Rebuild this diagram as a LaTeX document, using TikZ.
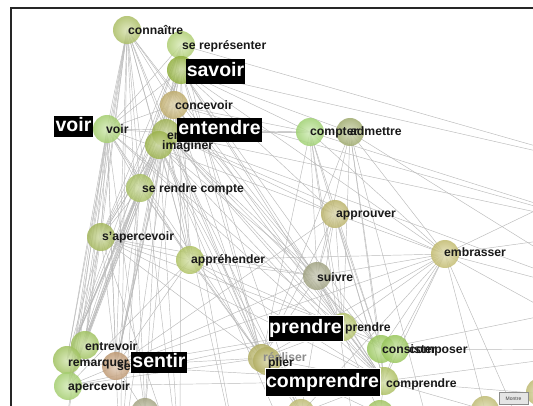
\documentclass[tikz,border=0pt]{standalone}
\usepackage{fontspec}
\setmainfont{Liberation Sans}
\definecolor{cA}{HTML}{B4C86A}
\definecolor{cB}{HTML}{B8D878}
\definecolor{cC}{HTML}{98B840}
\definecolor{cD}{HTML}{C8B470}
\definecolor{cE}{HTML}{A8BC58}
\definecolor{cF}{HTML}{A4BC50}
\definecolor{cG}{HTML}{ACD874}
\definecolor{cH}{HTML}{B0C868}
\definecolor{cI}{HTML}{A8DC78}
\definecolor{cJ}{HTML}{A8B474}
\definecolor{cK}{HTML}{ACC060}
\definecolor{cL}{HTML}{B8CC68}
\definecolor{cM}{HTML}{C4BC70}
\definecolor{cN}{HTML}{CCC474}
\definecolor{cO}{HTML}{A8AA88}
\definecolor{cP}{HTML}{BCCC70}
\definecolor{cQ}{HTML}{A0D060}
\definecolor{cS}{HTML}{B4C864}
\definecolor{cT}{HTML}{BCB868}
\definecolor{cU}{HTML}{A8CC64}
\definecolor{cW}{HTML}{C8A078}
\definecolor{cY}{HTML}{ACAC88}
\definecolor{cZ}{HTML}{C8C478}
\begin{document}
\begin{tikzpicture}[x=1pt,y=-1pt,
  edge/.style={draw=black!27,line width=0.45pt},
  ballnode/.style={circle,minimum size=28pt,inner sep=0pt,shading=radial,
     inner color=#1!50!white,outer color=#1!95!black,opacity=0.85},
  lbl/.style={anchor=west,inner sep=0pt,text=black!90,
     font=\fontsize{12.2}{13}\selectfont\bfseries,text height=8.5pt,text depth=2.5pt},
  big/.style={fill=black,text=white,inner xsep=1.2pt,inner ysep=3pt,
     font=\fontsize{19.5}{20}\selectfont\bfseries,text height=14.5pt,text depth=4.5pt}]
\useasboundingbox (0,0) rectangle (533,406);
\clip (0,0) rectangle (533,406);
\fill[white] (0,0) rectangle (533,406);
% centres
\coordinate (A) at (127,30);
\coordinate (B) at (181,45);
\coordinate (C) at (181,70);
\coordinate (D) at (174,105);
\coordinate (E) at (166,133);
\coordinate (F) at (159,145);
\coordinate (G) at (107,129);
\coordinate (H) at (140,188);
\coordinate (I) at (310,132);
\coordinate (J) at (350,132);
\coordinate (K) at (101,237);
\coordinate (L) at (190,260);
\coordinate (M) at (335,214);
\coordinate (N) at (445,254);
\coordinate (O) at (317,276);
\coordinate (P) at (343,327);
\coordinate (Q) at (381,349);
\coordinate (R) at (395,349);
\coordinate (S) at (384,381);
\coordinate (T) at (262,358);
\coordinate (T2) at (267,361);
\coordinate (U) at (85,345);
\coordinate (V) at (67,360);
\coordinate (W) at (116,366);
\coordinate (X) at (68,386);
\coordinate (Y1) at (145,412);
\coordinate (Y2) at (301,413);
\coordinate (Y3) at (380,414);
\coordinate (Y4) at (485,410);
\coordinate (Y5) at (540,392);
% off-picture ends
\coordinate (b1) at (60,470);
\coordinate (b2) at (120,470);
\coordinate (b3) at (180,470);
\coordinate (b4) at (240,470);
\coordinate (b5) at (300,470);
\coordinate (b6) at (360,470);
\coordinate (b7) at (440,470);
\coordinate (b8) at (540,470);
\coordinate (r1) at (620,80);
\coordinate (r2) at (620,170);
\coordinate (r3) at (620,230);
\coordinate (r4) at (620,300);
\coordinate (r5) at (620,350);
\coordinate (r6) at (620,400);
% connectors
\foreach \a/\b in {A/G,A/K,A/U,A/V,A/W,A/X,A/H,A/F,A/E,A/D,A/T,A/Y1,A/L,A/O,A/b1,A/b2,A/b3,A/S,
  B/G,B/K,B/V,B/X,B/W,B/T,B/Y1,B/F,B/b2,B/r2,
  C/G,C/K,C/U,C/V,C/W,C/X,C/L,C/T,C/I,C/J,C/P,C/S,C/Q,C/N,C/M,C/Y2,C/r2,C/b3,
  D/G,D/K,D/H,D/V,D/X,D/W,D/L,D/T,D/I,D/S,D/O,D/r3,D/b4,
  E/G,E/I,E/J,E/K,E/U,E/V,E/X,E/W,E/L,E/T,E/P,E/S,E/Q,E/N,E/O,E/M,E/r3,E/r4,E/b4,E/Y2,
  F/K,F/L,F/V,F/X,F/W,F/T,F/O,F/S,F/Y1,F/Y2,F/b3,F/b5,
  G/I,G/K,G/U,G/V,G/X,G/W,G/H,G/L,G/T,G/Y1,G/b1,G/b2,G/S,G/P,
  H/K,H/V,H/X,H/W,H/L,H/T,H/b2,
  I/O,I/P,I/S,I/Q,I/T,I/r3,I/N,I/b6,
  J/P,J/S,J/O,J/N,J/Q,J/r4,J/T,J/b7,
  K/U,K/V,K/X,K/W,K/L,K/T,K/O,K/P,K/S,K/b3,
  L/T,L/O,L/P,L/S,L/W,L/X,L/N,
  M/O,M/P,M/S,M/Q,M/T,M/Y2,M/N,M/G,M/W,
  N/P,N/Q,N/R,N/S,N/T,N/O,N/r3,N/r4,N/r5,N/Y4,N/Y2,N/W,N/b8,N/r2,
  O/P,O/S,O/T,O/Q,O/W,O/Y3,
  P/S,P/Q,P/T,P/W,P/X,P/R,
  Q/S,Q/r4,R/S,R/r5,
  S/T,S/W,S/Y3,S/Y4,S/r6,S/X,S/Y2,S/r5,
  T/W,T/X,T/Y2,T/Y3,W/V,W/X,W/Y1}
  \draw[edge] (\a) -- (\b);
% balls
\node[ballnode=cA] (nA) at (A) {};
\node[ballnode=cB] (nB) at (B) {};
\node[ballnode=cC] (nC) at (C) {};
\node[ballnode=cD] (nD) at (D) {};
\node[ballnode=cE] (nE) at (E) {};
\node[ballnode=cF] (nF) at (F) {};
\node[ballnode=cG] (nG) at (G) {};
\node[ballnode=cH] (nH) at (H) {};
\node[ballnode=cI] (nI) at (I) {};
\node[ballnode=cJ] (nJ) at (J) {};
\node[ballnode=cK] (nK) at (K) {};
\node[ballnode=cL] (nL) at (L) {};
\node[ballnode=cM] (nM) at (M) {};
\node[ballnode=cN] (nN) at (N) {};
\node[ballnode=cO] (nO) at (O) {};
\node[ballnode=cP] (nP) at (P) {};
\node[ballnode=cQ] (nQ) at (Q) {};
\node[ballnode=cQ] (nR) at (R) {};
\node[ballnode=cS] (nS) at (S) {};
\node[ballnode=cT] (nT) at (T) {};
\node[ballnode=cT] (nT2) at (T2) {};
\node[ballnode=cU] (nU) at (U) {};
\node[ballnode=cU] (nV) at (V) {};
\node[ballnode=cW] (nW) at (W) {};
\node[ballnode=cG] (nX) at (X) {};
\node[ballnode=cY] (nY1) at (Y1) {};
\node[ballnode=cZ] (nY2) at (Y2) {};
\node[ballnode=cU] (nY3) at (Y3) {};
\node[ballnode=cZ] (nY4) at (Y4) {};
\node[ballnode=cZ] (nY5) at (Y5) {};
% small labels
\node[lbl] (tA) at (128,32) {connaître};
\node[lbl] (tB) at (182,47) {se représenter};
\node[lbl] (tD) at (175,107) {concevoir};
\node[lbl] (tF) at (162,147) {imaginer};
\node[lbl] (tE) at (167,137) {entendre};
\node[lbl] (tG) at (106,131) {voir};
\node[lbl] (tH) at (142,190) {se rendre compte};
\node[lbl] (tI) at (310,133) {compter};
\node[lbl] (tJ) at (350,133) {admettre};
\node[lbl] (tK) at (102,238) {s'apercevoir};
\node[lbl] (tL) at (191,261) {appréhender};
\node[lbl] (tM) at (336,215) {approuver};
\node[lbl] (tN) at (444,254) {embrasser};
\node[lbl] (tO) at (317,278) {suivre};
\node[lbl] (tP) at (345,328) {prendre};
\node[lbl] (tQ) at (382,350) {consister};
\node[lbl] (tR) at (409,350) {composer};
\node[lbl] (tS) at (386,384) {comprendre};
\node[lbl,text=black!45] (tT) at (263,358) {réaliser};
\node[lbl] (tT2) at (268,363) {plier};
\node[lbl] (tU) at (85,347) {entrevoir};
\node[lbl] (tV) at (68,363) {remarquer};
\node[lbl] (tW) at (117,367) {se sentir};
\node[lbl] (tX) at (68,387) {apercevoir};
% highlighted labels
\node[big] (kC) at (215.5,72) {savoir};
\node[big,inner ysep=1pt] (kG) at (73.5,126.5) {voir};
\node[big,inner ysep=2.5pt] (kE) at (219.5,130) {entendre};
\node[big,draw=white,line width=0.6pt,inner ysep=3.5pt] (kP) at (305.5,328.5) {prendre};
\node[big,inner ysep=1pt] (kW) at (159,362.5) {sentir};
\node[big,draw=white,line width=0.6pt,inner ysep=4.5pt] (kS) at (322.5,382.5) {comprendre};
% button
\node[draw=black!45,fill=black!10,minimum width=29pt,minimum height=12pt,inner sep=0pt,
  font=\fontsize{5}{5}\selectfont,text=black!75] (btn) at (513.5,398.5) {Montre};
% frame
\draw[black!85,line width=1.6pt] (11,406) -- (11,8) -- (533,8);
\end{tikzpicture}
\end{document}
